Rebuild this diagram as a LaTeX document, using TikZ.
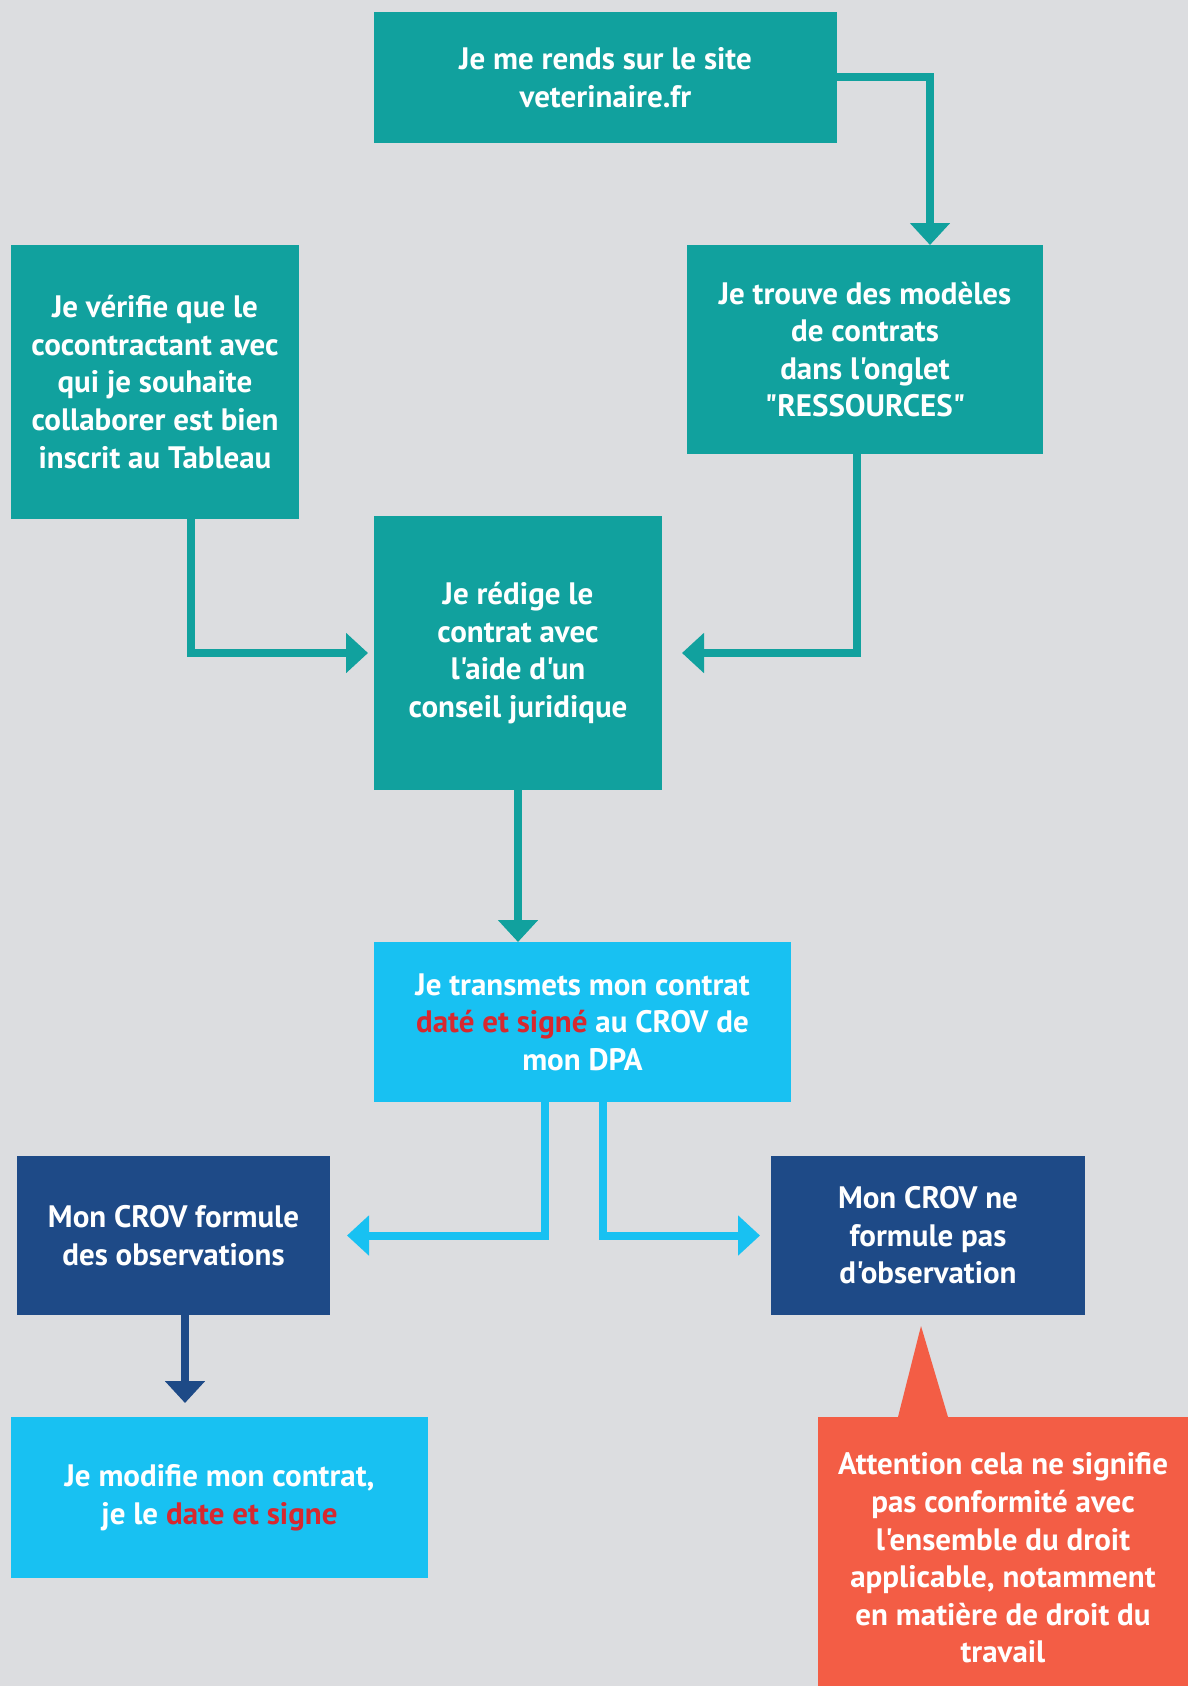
\documentclass[tikz,border=0pt]{standalone}
\usepackage{fontspec}
\setmainfont{PT Sans}[Ligatures=TeXOff]
\usepackage{tikz}
\usetikzlibrary{arrows.meta,positioning,calc}

\definecolor{bggray}{HTML}{DCDDE0}
\definecolor{teal}{HTML}{11A19E}
\definecolor{skyblue}{HTML}{18C1F2}
\definecolor{navy}{HTML}{1E4A87}
\definecolor{coral}{HTML}{F35D45}
\definecolor{redtxt}{HTML}{D7282F}

\begin{document}
\begin{tikzpicture}[x=1pt, y=-1pt, line width=4pt, >={Triangle[width=19.5pt,length=11pt]}]
    \tikzstyle{step box}=[rectangle, inner sep=0pt, outer sep=0pt, align=center, text=white,
        font=\bfseries\fontsize{15.5}{18.8}\selectfont]
    \tikzstyle{teal box}=[step box, fill=teal]
    \tikzstyle{sky box}=[step box, fill=skyblue]
    \tikzstyle{navy box}=[step box, fill=navy]

    \useasboundingbox (0,0) rectangle (594,843);
    \fill[bggray] (0,0) rectangle (594,843);

    \node[teal box, minimum width=231.5pt, minimum height=65.5pt] (site) at (302.75,38.75)
        {Je me rends sur le site\\veterinaire.fr};
    \node[teal box, minimum width=178pt, minimum height=104.5pt] (modeles) at (432.5,174.75)
        {Je trouve des modèles\\de contrats\\dans l'onglet\\"RESSOURCES"};
    \node[teal box, minimum width=144pt, minimum height=137pt] (verif) at (77.5,191)
        {Je vérifie que le\\cocontractant avec\\qui je souhaite\\collaborer est bien\\inscrit au Tableau};
    \node[teal box, minimum width=144pt, minimum height=137pt] (redige) at (259,326.5)
        {Je rédige le\\contrat avec\\l'aide d'un\\conseil juridique};
    \node[sky box, minimum width=208.5pt, minimum height=80pt] (transmet) at (291.25,511)
        {Je transmets mon contrat\\{\color{redtxt}daté et signé} au CROV de\\mon DPA};
    \node[navy box, minimum width=156.5pt, minimum height=79.5pt] (observ) at (86.75,617.75)
        {Mon CROV formule\\des observations};
    \node[navy box, minimum width=157pt, minimum height=79.5pt] (noobs) at (464,617.75)
        {Mon CROV ne\\formule pas\\d'observation};
    \node[sky box, minimum width=208.5pt, minimum height=80.5pt] (modifie) at (109.75,748.75)
        {Je modifie mon contrat,\\je le {\color{redtxt}date et signe}};
    \node[step box, fill=coral, minimum width=185pt, minimum height=141pt,
        anchor=north west] (attention) at (409,708.5)
        {Attention cela ne signifie\\pas conformité avec\\l'ensemble du droit\\applicable, notamment\\en matière de droit du\\travail};

    % pointer of the warning
    \fill[coral] ([xshift=-3.5pt,yshift=-5.5pt]noobs.south) -- ($(attention.north west)+(40,0)$)
        -- ($(attention.north west)+(65,0)$) -- cycle;

    \path[->, draw=teal]
    (site.east) -| ([xshift=32.5pt]modeles.north);
    \draw[->, teal] ([xshift=18pt]verif.south) |- ([xshift=-3pt]redige.west);
    \draw[->, teal] ([xshift=-4pt]modeles.south) |- ([xshift=10pt]redige.east);
    \draw[->, teal] (redige.south) -- (redige.south |- transmet.north);

    \draw[->, skyblue] ([xshift=-18.75pt]transmet.south) |- ([xshift=8.5pt]observ.east);
    \draw[->, skyblue] ([xshift=10.25pt]transmet.south) |- ([xshift=-5.5pt]noobs.west);

    \draw[->, navy] ([xshift=5.75pt]observ.south) -- ([xshift=5.75pt,yshift=7pt]observ.south |- modifie.north);

\end{tikzpicture}
\end{document}
